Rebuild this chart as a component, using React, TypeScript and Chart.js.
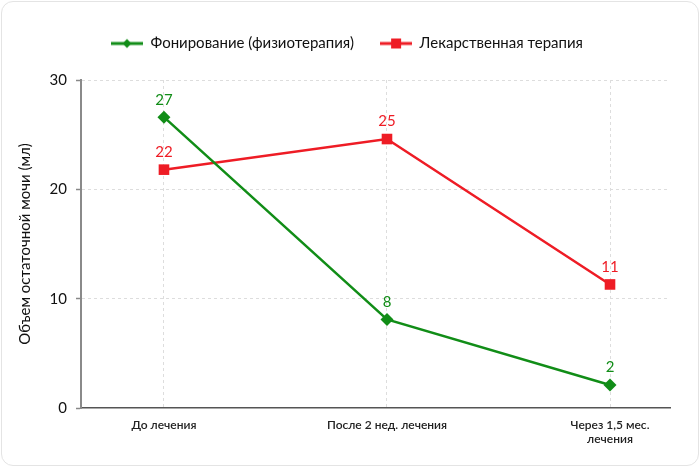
import React, { useEffect, useRef } from "react";
import { Chart, registerables } from "chart.js";

Chart.register(...registerables);

const categories: (string | string[])[] = ["До лечения", "После 2 нед. лечения", ["Через 1,5 мес.", "лечения"]];
const seriesNames = ["Фонирование (физиотерапия)", "Лекарственная терапия"];
const phonationValues = [26.6, 8.1, 2.1];
const drugValues = [21.8, 24.6, 11.3];
const yTicks = [0, 10, 20, 30];

const GREEN = "#118d17";
const RED = "#ee1c25";
const FONT = "Lato, 'Noto Sans', sans-serif";

function makeLegendIcon(color: string, shape: "diamond" | "square"): HTMLCanvasElement {
  const c = document.createElement("canvas");
  c.width = 32;
  c.height = 12;
  const g = c.getContext("2d")!;
  g.strokeStyle = color;
  g.lineWidth = 3;
  g.beginPath();
  g.moveTo(0, 6);
  g.lineTo(32, 6);
  g.stroke();
  g.fillStyle = color;
  if (shape === "diamond") {
    g.beginPath();
    g.moveTo(16, 1.5);
    g.lineTo(20.5, 6);
    g.lineTo(16, 10.5);
    g.lineTo(11.5, 6);
    g.closePath();
    g.fill();
  } else {
    g.fillRect(11, 1, 10, 10);
  }
  return c;
}

const valueLabels = {
  id: "valueLabels",
  afterDatasetsDraw(chart: any) {
    const ctx = chart.ctx;
    ctx.save();
    ctx.font = `15px ${FONT}`;
    ctx.textAlign = "center";
    ctx.textBaseline = "bottom";
    chart.data.datasets.forEach((ds: any, i: number) => {
      const meta = chart.getDatasetMeta(i);
      meta.data.forEach((pt: any, j: number) => {
        const v = ds.data[j].y;
        ctx.fillStyle = ds.borderColor;
        ctx.fillText(String(Math.round(v)), pt.x, pt.y - 10);
      });
    });
    ctx.restore();
  },
};

const legendSpacer = {
  id: "legendSpacer",
  beforeInit(chart: any) {
    const legend = chart.legend;
    if (!legend) return;
    const orig = legend.fit;
    legend.fit = function () {
      orig.call(this);
      this.height += 19;
    };
  },
};

export default function App() {
  const ref = useRef<HTMLCanvasElement | null>(null);

  useEffect(() => {
    document.body.style.margin = "0";
    const canvas = ref.current!;
    const chart = new Chart(canvas, {
      type: "line",
      data: {
        datasets: [
          {
            label: seriesNames[0],
            data: phonationValues.map((y, i) => ({ x: i, y })),
            borderColor: GREEN,
            backgroundColor: GREEN,
            borderWidth: 2.5,
            pointStyle: "rectRot",
            pointRadius: 6.5,
            pointHoverRadius: 6.5,
            pointBorderWidth: 0,
            tension: 0,
          },
          {
            label: seriesNames[1],
            data: drugValues.map((y, i) => ({ x: i, y })),
            borderColor: RED,
            backgroundColor: RED,
            borderWidth: 2.5,
            pointStyle: "rect",
            pointRadius: 7.5,
            pointHoverRadius: 7.5,
            pointBorderWidth: 0,
            tension: 0,
          },
        ],
      },
      options: {
        animation: false,
        responsive: false,
        layout: { padding: { left: 24, right: 30, top: 10, bottom: 0 } },
        plugins: {
          tooltip: { enabled: false },
          legend: {
            position: "top",
            labels: {
              usePointStyle: true,
              pointStyleWidth: 32,
              padding: 26,
              color: "#111",
              font: { family: FONT, size: 15 },
              generateLabels: (ch: any) =>
                ch.data.datasets.map((ds: any, i: number) => ({
                  text: ds.label,
                  fillStyle: ds.borderColor,
                  strokeStyle: ds.borderColor,
                  fontColor: "#111",
                  lineWidth: 0,
                  hidden: false,
                  datasetIndex: i,
                  pointStyle: makeLegendIcon(ds.borderColor, i === 0 ? "diamond" : "square"),
                })),
            },
          },
        },
        scales: {
          x: {
            type: "linear",
            min: -0.372,
            max: 2.269,
            afterBuildTicks: (scale: any) => {
              scale.ticks = categories.map((_, i) => ({ value: i }));
            },
            afterFit: (scale: any) => {
              scale.height = 59;
            },
            ticks: {
              callback: (v: any) => categories[Number(v)] ?? "",
              color: "#222",
              font: { family: FONT, size: 12, weight: 600 },
              padding: 10,
              maxRotation: 0,
            },
            grid: {
              color: "#dddddd",
              lineWidth: 1,
              drawTicks: false,
            },
            border: { color: "#555", width: 1.5, dash: [3, 3] },
          },
          y: {
            min: 0,
            max: 30,
            afterBuildTicks: (scale: any) => {
              scale.ticks = yTicks.map((v) => ({ value: v }));
            },
            afterFit: (scale: any) => {
              scale.width = 57;
            },
            ticks: {
              color: "#111",
              font: { family: FONT, size: 15 },
              padding: 9,
            },
            grid: {
              color: (ctx: any) => (ctx.tick && ctx.tick.value === 0 ? "rgba(0,0,0,0)" : "#dddddd"),
              tickColor: "#888",
              tickLength: 5,
              tickWidth: 1.5,
              tickBorderDash: [],
            },
            border: { color: "#8a8a8a", width: 2, dash: [3, 3] },
            title: {
              display: true,
              text: "Объем остаточной мочи (мл)",
              color: "#111",
              font: { family: FONT, size: 15 },
              padding: { top: -8, bottom: 0 },
            },
          },
        },
      },
      plugins: [valueLabels, legendSpacer],
    } as any);
    return () => chart.destroy();
  }, []);

  return (
    <div
      style={{
        position: "relative",
        width: 700,
        height: 467,
        background: "#ffffff",
        overflow: "hidden",
      }}
    >
      <div
        style={{
          position: "absolute",
          left: 1,
          top: 1,
          width: 696,
          height: 463,
          border: "1px solid #e4e4e4",
          borderRadius: 12,
          background: "#fff",
        }}
      />
      <canvas ref={ref} width={700} height={467} style={{ position: "absolute", left: 0, top: 0, width: 700, height: 467 }} />
    </div>
  );
}
